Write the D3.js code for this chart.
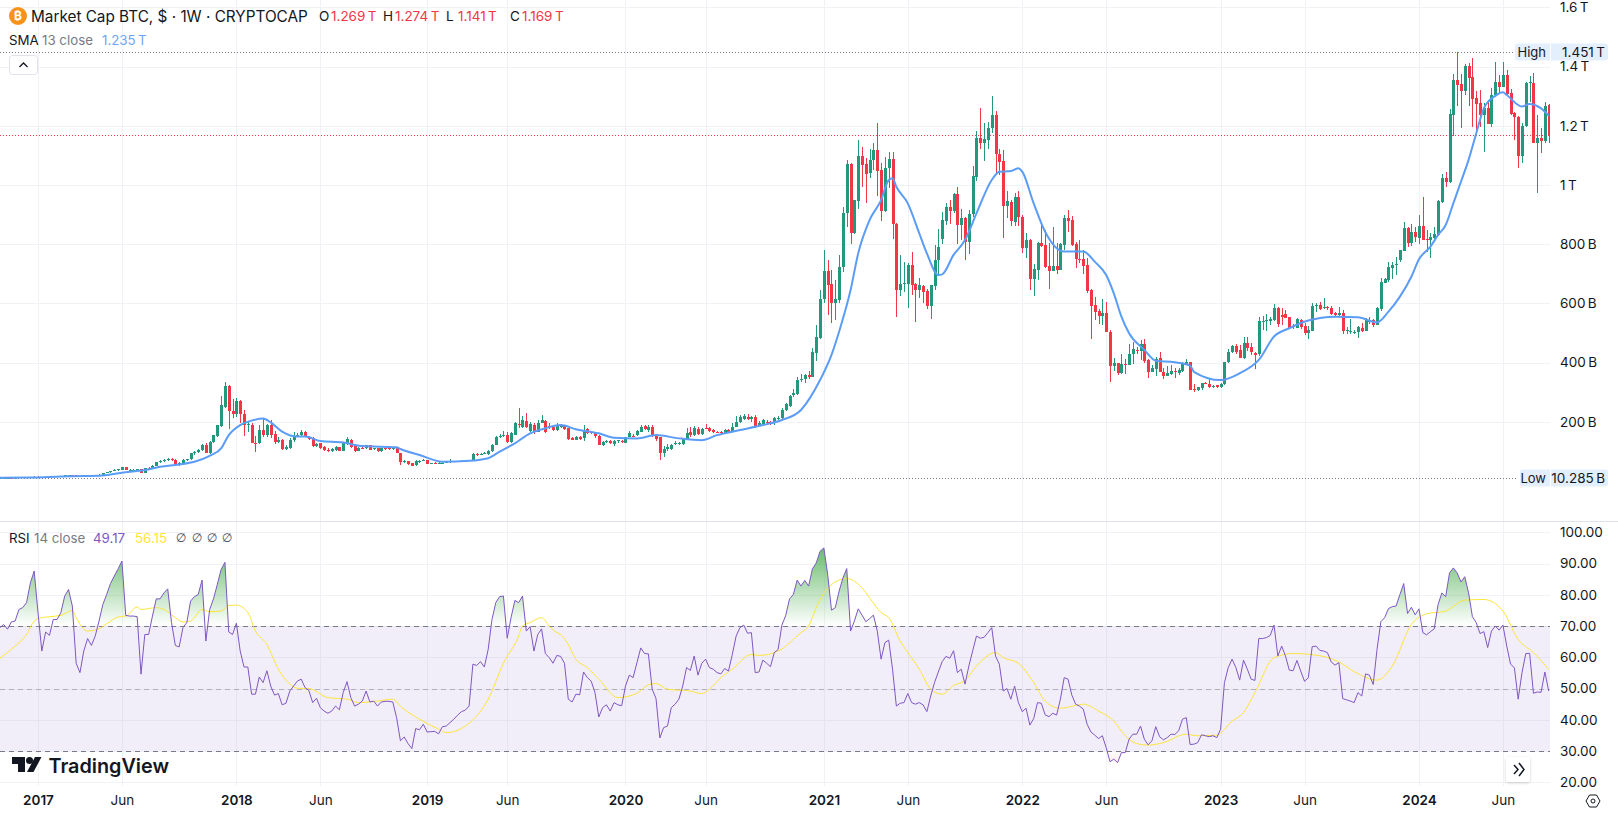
<!DOCTYPE html>
<html lang="en">
<head>
<meta charset="UTF-8">
<title>Market Cap BTC</title>
<script src="https://d3js.org/d3.v7.min.js"></script>
<style>
    body { margin: 0; background: #fff; font-family: Inter, "Noto Sans", sans-serif; }
    svg { display: block; }
    text { font-family: Inter, "Noto Sans", sans-serif; fill: #131722; }
    .axis text { font-size: 13.5px; }
    .axis path, .axis line { display: none; }
    .grid { stroke: #f1f2f6; stroke-width: 1; shape-rendering: crispEdges; }
</style>
</head>
<body>
<svg width="1618" height="814"></svg>
<script>
// weekly candles, values in billions, one entry per bar
const opens = [
10.4,10.7,11.1,11.3,11.2,11.7,11.9,12.2,12.6,14,
15.2,14.3,13.3,14.8,14.7,16.6,16.1,17,18.9,20.5,
19.9,15.7,15.5,17.6,19.5,19.2,20.3,21,27,29,
34,37,38,46,37,38,37,39,28,44,
43,52,64,68,70,75,72,55,60,72,
73,93,98,104,121,94,132,153,186,250,
320,235,225,270,228,190,190,130,130,172,
155,190,160,132,140,108,112,138,153,155,
165,146,145,118,128,115,106,101,106,115,
103,125,140,118,103,112,111,120,108,110,
100,110,110,108,112,93,65,66,60,53,
68,70,71,59,62,60,61,62,64,67,
66,67,68,69,70,92,91,92,90,100,
122,150,153,157,133,157,192,183,204,170,
190,167,195,204,186,183,172,186,186,178,
144,140,150,144,175,166,161,152,121,133,
136,125,136,135,130,150,153,155,167,186,
172,184,157,147,96,107,108,127,127,125,
141,164,155,176,158,180,180,172,167,167,
163,172,167,183,200,211,217,209,217,189,
192,200,200,195,212,212,240,252,290,293,
341,344,358,352,434,482,615,709,666,600,
612,722,904,1071,839,947,1098,1071,1040,1084,
1118,1051,912,1056,1087,867,645,668,666,730,
665,645,660,642,592,660,745,818,880,927,
913,970,865,887,809,901,1026,1158,1143,1152,
1191,1237,1105,1081,930,944,876,958,893,788,
814,683,713,803,797,726,711,726,713,797,
887,882,800,751,749,730,645,593,574,557,
566,503,390,397,366,396,393,428,443,440,
463,409,369,378,414,369,356,363,372,364,
371,395,401,310,309,313,331,328,321,323,
317,328,401,436,456,443,414,465,454,434,
428,541,541,541,544,585,561,563,553,523,
518,544,523,501,508,594,595,585,587,584,
566,561,566,510,507,502,502,516,508,541,
544,528,581,668,679,718,730,745,777,854,
805,840,822,862,817,814,822,831,944,1025,
1011,1236,1355,1341,1318,1402,1365,1293,1276,1237,
1259,1206,1304,1347,1330,1372,1310,1242,1231,1099,
1199,1343,1343,1143,1159,1149,1269];
const highs = [
10.8,11.3,11.6,11.7,11.8,12,12.3,12.8,14.2,15.8,
18.2,14.8,15,15.2,16.8,17,17.2,19,21,21.2,
20.5,17,17.8,19.6,20,20.4,22,27,29.5,34,
41,40,48,47,41,40,40,40,45,46,
53,65,72,74,79,78,74,63,73,76,
95,100,108,124,130,134,157,190,288,333,
325,276,280,275,240,200,195,153,190,211,
192,205,170,150,142,122,145,165,162,172,
168,152,148,130,130,118,112,110,118,116,
132,147,142,122,115,116,123,123,112,112,
113,113,112,113,113,96,70,68,62,70,
72,73,72,62,64,63,64,66,74,69,
69,70,71,72,93,95,95,98,105,125,
152,160,168,165,165,198,245,218,231,200,
195,205,222,207,195,190,195,193,190,180,
148,152,153,190,178,170,166,155,136,138,
140,137,140,138,150,170,158,172,188,190,
188,188,160,150,118,125,125,135,133,145,
178,184,185,182,178,192,182,175,170,170,
175,176,195,220,223,225,228,220,222,202,
208,205,203,215,218,245,262,290,310,350,
362,362,372,448,527,645,780,747,713,680,
764,927,1085,1075,949,1152,1130,1090,1120,1141,
1211,1073,1096,1113,1113,870,764,739,736,773,
668,685,662,648,662,797,850,910,938,950,
974,992,919,893,915,1064,1182,1259,1208,1214,
1301,1251,1120,1118,980,950,972,980,899,839,
818,732,808,871,848,803,859,803,803,900,
915,896,808,814,780,752,648,620,581,615,
605,509,414,400,428,411,464,468,454,476,
480,411,392,420,435,381,389,392,381,381,
401,412,402,328,319,332,336,349,326,326,
331,401,446,460,462,460,488,488,465,437,
553,557,564,555,598,589,583,578,555,530,
550,547,533,523,600,602,606,617,592,590,
570,587,578,521,546,510,524,533,549,555,
546,588,685,685,739,740,758,782,876,857,
868,857,899,958,848,837,857,949,1037,1045,
1256,1375,1451,1375,1409,1411,1428,1319,1321,1276,
1287,1327,1415,1372,1415,1389,1323,1248,1233,1208,
1349,1368,1377,1236,1191,1279,1274];
const lows = [
10.3,10.5,10.9,11,11.1,11.5,11.7,12,12.4,13.8,
13,12.5,13,14.2,14.5,15.2,15.8,16.8,18.5,18.5,
15.2,14,15.2,17.4,18.8,19,20,20.5,26.5,28.5,
33,34,37,36,35,36,35,27,27,41,
42,50,60,65,68,68,50,50,58,68,
72,88,96,100,93,92,130,150,184,245,
175,212,215,195,152,166,128,99,125,150,
150,145,125,128,105,106,108,132,148,150,
147,138,116,114,108,103,98,99,103,101,
102,123,113,98,100,107,109,104,105,98,
98,105,106,105,93,55,60,54,50,51,
62,66,58,56,58,58,59,60,62,64,
64,65,66,67,69,85,88,90,89,98,
120,145,150,130,130,155,180,180,178,165,
160,165,195,163,175,168,170,180,172,140,
137,138,140,135,160,158,145,120,118,128,
125,118,130,128,128,148,148,152,165,172,
165,150,135,71,82,100,104,120,122,122,
138,150,152,155,155,175,165,163,163,160,
160,163,165,182,197,205,205,200,180,185,
188,190,188,190,207,208,235,250,285,290,
335,330,345,350,407,480,600,561,535,544,
600,707,857,801,835,919,994,940,1022,1050,
963,878,910,991,818,555,626,640,583,628,
538,617,600,581,547,645,700,800,865,868,
905,801,815,745,767,893,1015,1122,1082,1120,
1175,1040,1034,822,890,862,862,862,769,752,
645,626,679,792,721,649,709,700,713,780,
842,794,718,735,699,636,480,544,530,527,
503,335,373,358,363,361,392,395,429,409,
397,349,367,356,367,345,355,358,349,358,
369,392,307,300,305,307,327,315,313,315,
313,325,397,431,429,414,412,440,424,380,
423,510,508,527,541,521,527,552,512,512,
516,513,494,480,507,572,578,580,578,561,
555,557,497,495,495,495,484,505,507,532,
519,527,575,668,673,681,696,740,777,790,
794,809,801,814,775,755,817,828,940,992,
1008,1167,1267,1193,1304,1267,1197,1169,1197,1113,
1206,1197,1298,1310,1330,1304,1237,1152,1056,1073,
1197,1281,1143,972,1109,1141,1141];
const closes = [
10.7,11.1,11.3,11.2,11.7,11.9,12.2,12.6,14,15.2,
14.3,13.3,14.8,14.7,16.6,16.1,17,18.9,20.5,19.9,
15.7,15.5,17.6,19.5,19.2,20.3,21,27,29,34,
37,39,46,37,38,38.5,39,28,44,43,
52,65,68,70,75,71,55,60,72,74,
93,98,104,121,94,132,155,188,258,320,
235,225,270,228,190,192,130,128,172,155,
188,155,132,138,108,114,140,153,156,165,
150,142,118,126,112,105,101,108,115,103,
130,143,115,102,112,110,120,106,110,100,
110,108,108,110,95,65,66,56,52,69,
68,71,59,60,61,61,62,65,67,66,
67,68,69,70,92,91,92,96,103,122,
150,153,157,133,161,195,190,206,182,192,
165,195,206,167,183,172,189,186,175,142,
140,150,142,172,163,161,152,121,133,136,
127,136,137,133,148,161,152,169,184,176,
184,153,141,96,107,116,122,127,128,141,
161,154,178,158,174,178,169,167,166,163,
172,167,183,200,217,220,209,217,187,197,
205,195,192,212,212,240,259,287,296,341,
344,358,352,437,486,615,709,662,600,615,
723,904,1071,839,949,1098,1068,1037,1084,1118,
1047,912,1056,1087,867,645,665,668,730,662,
645,662,640,592,662,747,790,882,927,913,
970,865,887,809,901,1030,1158,1143,1155,1191,
1237,1105,1079,930,946,878,958,893,788,814,
683,715,805,794,724,710,726,713,801,890,
879,797,749,749,727,642,591,572,557,569,
503,390,399,364,395,394,428,446,442,462,
407,369,382,413,369,356,365,372,370,375,
395,403,307,309,317,330,327,318,322,317,
329,401,436,456,436,416,466,450,437,426,
541,541,544,548,585,529,555,552,516,523,
546,520,501,510,591,594,581,587,586,564,
561,566,508,510,507,502,519,508,546,541,
528,583,671,681,722,730,733,780,854,805,
842,826,862,814,814,825,833,946,1023,1009,
1239,1355,1339,1318,1402,1363,1291,1274,1237,1259,
1206,1304,1347,1330,1372,1307,1240,1231,1099,1199,
1343,1348,1143,1159,1149,1267,1169];

// SMA 13: bar index and value in billions
const smaBars = [0,8,16,22,26,32,38,42,47,51,55,58,60,63,66,69,71,74,78,80,84,90,95,104,105,110,116,123,128,131,135,139,143,147,151,157,161,167,172,178,184,188,194,200,205,210,215,218,220,223,225,228,231,233,234,235,238,241,243,246,247,250,253,256,260,262,265,267,268,271,274,279,284,287,290,292,294,296,300,303,308,312,313,320,325,330,334,338,343,350,356,361,364,367,370,372,375,377,379,381,383,385,387,389,392,394,395,399,401,404,406];
const smaValues = [10.8,11.5,15,17,18,28,37,48,56,65,85,110,155,189,204,211,198,167,150,150,135,130,118,114,108,88,65,68,77,99,127,161,178,189,175,161,146,144,155,144,138,155,172,189,206,240,341,426,505,645,769,882,949,1017,1023,994,938,837,769,696,698,764,814,904,1017,1045,1047,1057,1045,938,842,775,775,741,696,634,555,499,443,406,401,390,369,341,364,409,488,516,542,555,553,536,572,623,690,749,792,831,865,938,1011,1085,1174,1259,1301,1313,1304,1265,1274,1259,1235];

// RSI 14, one entry per bar
const rsiValues = [
69.5,70.5,69,71.3,71.6,75.3,75.9,77.5,83.8,87.6,
74.3,62,68.1,67,72.1,72.1,74.3,79.6,81.7,76.4,
58.1,55.1,62,66,63.8,66.8,71.6,76.9,80.1,83.6,
86,88.3,90.8,73.4,73.2,73.2,73,54.6,67.3,67.3,
73.2,78.7,78.7,80.6,81.9,71.1,63.8,63.3,69.5,71.1,
78,79.4,80.1,84.7,65.2,75.3,78.7,83.3,88.1,90.4,
68.1,67.3,70.9,62,56.9,56.9,48.2,48.2,53.7,51.9,
55.7,50.8,47.9,48.4,44.8,45.3,49.2,50.8,52.4,53,
50.3,49.4,45.5,46.9,43.9,42.8,42.1,42.8,44.4,43.2,
48.7,52.2,47.1,44.4,45,46,49.2,45.7,46,44.4,
45.7,45.9,45.9,45.7,40.7,33.3,34.5,32.4,30.8,37.2,
36.8,38.6,36.1,36.2,36.3,35.5,37.8,38,39.1,40.2,
41.5,42.6,43.1,44.4,57.8,57.4,58.6,56.9,62.5,72.1,
77.5,79.4,79.6,66.1,72.7,78.2,77.5,79.6,68.4,69.8,
62,67.3,69.1,61.2,59.9,58.1,60.6,60.3,58.1,46.6,
45.7,48.2,48,55.3,53.5,52.4,48.7,40.9,43.9,44.8,
42.8,45.5,44.8,44.5,50.8,54.3,53.5,58.3,63,61.2,
61.1,49.8,46.8,34.2,37.5,38,43.9,45,46.6,50.8,
56.7,55.8,60.4,54.3,58.1,59.4,56.7,56.2,55.1,54.7,
56.4,55.6,60.9,66.8,69.5,70.3,67.7,67.9,55.1,55.3,
59.1,58.1,57,61.5,62.5,70.3,73.4,78.7,80.1,84.7,
82.8,84.6,82.8,88.3,90.2,93.9,95,86.5,75.1,75.9,
81.2,85.4,88.4,68.4,71.6,75.5,73.5,71.4,72.4,73.5,
68.4,59.4,64.7,65.5,56.2,44.4,45.3,45.5,48.4,45.5,
45,45.5,44.8,42.6,47.6,51.9,55.3,58.6,60.3,59.7,
62.1,55.1,56.2,51.4,57.2,62,66.8,66.1,66.4,67.9,
69.5,60.4,57.8,49.2,50,46.6,50.8,45.5,42.6,43.7,
38.3,40.4,45.5,45.3,41.6,41,42.1,41.5,46.6,53.5,
53,47.9,45,44.4,43.4,38.6,36.1,35.1,34,34.9,
31.1,26.6,27.4,26.3,29.5,29.5,33.8,35.4,35.4,38,
33.8,32,33.3,37.8,34.6,33.6,34.3,35.4,35.3,36.5,
40.2,40.7,32.1,32.2,32.7,35.2,34.9,34.6,34.9,34.3,
37,51.9,56.7,59.4,56.7,52.7,59.1,56.2,53,52.6,
66,66,66.3,67,70.3,60.4,63.6,60.4,55.9,55.7,
59,55.6,52.3,53.5,63.4,63.6,62.2,62,61.5,58.5,
57.5,58.3,46.8,46.4,46,45.5,48.7,47.6,54.7,54.3,
51.3,62.5,71.4,72.7,75.6,76.2,76.4,80.1,83.6,74,
76,73.6,75.5,67.9,67.2,68.2,69.1,76.9,80.6,79.4,
87,88.6,87,84.1,85.8,80.6,73,71.1,67.6,68.2,
63.1,68.4,70,68.7,70.3,63.6,57.8,56.7,46.6,55.1,
61.2,61.3,48.5,48.9,48.8,55.3,49.2];

// RSI moving average
const rsiMaBars = [0,4,7,9,10,13,16,19,20,23,26,28,31,33,36,37,41,43,46,48,50,53,55,58,60,62,65,67,70,73,76,78,81,86,91,94,99,103,105,110,115,117,123,128,132,136,137,139,142,144,146,147,149,151,154,157,162,167,170,172,175,181,184,186,189,192,197,199,204,210,212,214,217,222,226,228,231,233,236,238,241,244,247,250,253,256,261,263,267,271,274,278,282,284,288,292,295,298,301,305,311,314,319,323,326,329,334,339,345,351,355,361,365,370,374,379,384,389,394,398,402,406];
const rsiMaValues = [59.7,63.6,67.3,71.6,72.4,73,73.4,75,72.7,68.4,69.1,70.7,72.9,73.2,76.1,75.3,75.9,75.3,72.7,71.3,71.6,75.3,74.6,74.8,76.6,76.7,74.3,68.4,64.1,56.2,51.4,50.1,50,47.1,46.6,45.5,46,46.6,44.3,40.2,37,35.9,38.9,46.6,58.1,66.8,70,71.1,72.7,70,67.9,67.3,64.1,59.4,56.7,53,47.1,48.5,51.2,51.6,49.8,49.2,48.4,49.8,53.5,56.2,60.9,60.6,62,67.9,70,75.9,82.2,85.2,82.2,79,74.3,72.7,65.2,61.5,56.2,49.8,48.2,51,52.6,57.2,61.5,59.9,58.1,51.9,46,43.7,44.6,45,42.8,39.6,34.9,32.4,31.9,32.7,35.4,34.9,35.1,39.6,42.3,48.7,59.9,61.2,60.7,58.5,55.4,52.7,57.2,70.5,73.9,74.8,78.3,78.5,74.8,65.7,61.5,56.15];

const priceTicks = [200, 400, 600, 800, 1000, 1200, 1400, 1600];
const priceTickLabels = ["200\u2009B", "400\u2009B", "600\u2009B", "800\u2009B", "1\u2009T", "1.2\u2009T", "1.4\u2009T", "1.6\u2009T"];
const rsiTicks = [20, 30, 40, 50, 60, 70, 80, 90, 100];
const timeTickBars = [10, 32, 62, 84, 112, 133, 164, 185, 216, 238, 268, 290, 320, 342, 372, 394];
const timeTickLabels = ["2017", "Jun", "2018", "Jun", "2019", "Jun", "2020", "Jun", "2021", "Jun", "2022", "Jun", "2023", "Jun", "2024", "Jun"];

const highValue = 1451, lowValue = 10.285, lastClose = 1169;

const upColor = "#22987c", downColor = "#f23645";
const plotRight = 1550;

const svg = d3.select("svg");

const x = d3.scaleLinear().domain([10, 406]).range([38, 1548.7]);
const y = d3.scaleLinear().domain([0, 1000]).range([481, 185]);
const yRsi = d3.scaleLinear().domain([20, 100]).range([782.3, 532.3]);

// clip so nothing runs into the axes
const defs = svg.append("defs");
defs.append("clipPath").attr("id", "plot").append("rect").attr("width", plotRight).attr("height", 814);
defs.append("clipPath").attr("id", "above70").append("rect").attr("width", plotRight).attr("height", yRsi(70));
defs.append("clipPath").attr("id", "below30").append("rect").attr("y", yRsi(30)).attr("width", plotRight).attr("height", 60);
const gradUp = defs.append("linearGradient").attr("id", "gradUp").attr("gradientUnits", "userSpaceOnUse")
    .attr("x1", 0).attr("x2", 0).attr("y1", yRsi(100)).attr("y2", yRsi(70));
gradUp.append("stop").attr("offset", 0).attr("stop-color", "#4caf50").attr("stop-opacity", 1);
gradUp.append("stop").attr("offset", 1).attr("stop-color", "#4caf50").attr("stop-opacity", 0);
const gradDown = defs.append("linearGradient").attr("id", "gradDown").attr("gradientUnits", "userSpaceOnUse")
    .attr("x1", 0).attr("x2", 0).attr("y1", yRsi(30)).attr("y2", yRsi(0));
gradDown.append("stop").attr("offset", 0).attr("stop-color", "#ff5252").attr("stop-opacity", 0);
gradDown.append("stop").attr("offset", 1).attr("stop-color", "#ff5252").attr("stop-opacity", 1);

// grid
svg.append("g").selectAll("line").data(timeTickBars).join("line")
    .attr("class", "grid")
    .attr("x1", d => Math.round(x(d)) + 0.5).attr("x2", d => Math.round(x(d)) + 0.5)
    .attr("y1", 0).attr("y2", 786);
svg.append("g").selectAll("line").data(priceTicks).join("line")
    .attr("class", "grid")
    .attr("x1", 0).attr("x2", plotRight)
    .attr("y1", d => Math.round(y(d)) + 0.5).attr("y2", d => Math.round(y(d)) + 0.5);
svg.append("g").selectAll("line").data(rsiTicks).join("line")
    .attr("class", "grid")
    .attr("x1", 0).attr("x2", plotRight)
    .attr("y1", d => Math.round(yRsi(d)) + 0.5).attr("y2", d => Math.round(yRsi(d)) + 0.5);

// pane divider
svg.append("line").attr("x1", 0).attr("x2", 1618).attr("y1", 521.5).attr("y2", 521.5)
    .attr("stroke", "#e0e3eb").attr("shape-rendering", "crispEdges");

// high, low and last price lines
[[highValue, "#787b86", 1513], [lowValue, "#787b86", 1518], [lastClose, downColor, plotRight]].forEach(([v, c, end]) => {
    svg.append("line").attr("x1", 0).attr("x2", end)
        .attr("y1", Math.round(y(v)) + 0.5).attr("y2", Math.round(y(v)) + 0.5)
        .attr("stroke", c).attr("stroke-dasharray", "1 2");
});

// candles
const bars = closes.map((c, i) => ({i, o: opens[i], h: highs[i], l: lows[i], c}));
const candles = svg.append("g").attr("clip-path", "url(#plot)").attr("shape-rendering", "crispEdges");
candles.selectAll("line").data(bars).join("line")
    .attr("x1", d => Math.round(x(d.i)) + 0.5).attr("x2", d => Math.round(x(d.i)) + 0.5)
    .attr("y1", d => y(d.h)).attr("y2", d => y(d.l))
    .attr("stroke", d => d.c >= d.o ? upColor : downColor);
candles.selectAll("rect").data(bars).join("rect")
    .attr("x", d => Math.round(x(d.i)) - 1).attr("width", 3)
    .attr("y", d => y(Math.max(d.o, d.c)))
    .attr("height", d => Math.max(1, Math.abs(y(d.o) - y(d.c))))
    .attr("fill", d => d.c >= d.o ? upColor : downColor);

// SMA
svg.append("path").attr("clip-path", "url(#plot)")
    .attr("fill", "none").attr("stroke", "#5b9cf6").attr("stroke-width", 2).attr("stroke-linejoin", "round")
    .attr("d", d3.line().x((d, i) => x(smaBars[i])).y(d => y(d)).curve(d3.curveMonotoneX)(smaValues));

// RSI band
svg.append("rect").attr("x", 0).attr("width", plotRight)
    .attr("y", yRsi(70)).attr("height", yRsi(30) - yRsi(70))
    .attr("fill", "#7e57c2").attr("fill-opacity", 0.1);

// overbought / oversold fills
svg.append("path").attr("clip-path", "url(#above70)").attr("fill", "url(#gradUp)")
    .attr("d", d3.area().x((d, i) => x(i)).y0(yRsi(70)).y1(d => yRsi(d))(rsiValues));
svg.append("path").attr("clip-path", "url(#below30)").attr("fill", "url(#gradDown)")
    .attr("d", d3.area().x((d, i) => x(i)).y0(yRsi(30)).y1(d => yRsi(d))(rsiValues));

// band levels
[[70, 1], [50, 0.5], [30, 1]].forEach(([v, op]) => {
    svg.append("line").attr("x1", 0).attr("x2", plotRight)
        .attr("y1", Math.round(yRsi(v)) + 0.5).attr("y2", Math.round(yRsi(v)) + 0.5)
        .attr("stroke", "#787b86").attr("stroke-opacity", op).attr("stroke-dasharray", "5 4");
});

// RSI MA and RSI
svg.append("path").attr("clip-path", "url(#plot)")
    .attr("fill", "none").attr("stroke", "#fde53a").attr("stroke-width", 1)
    .attr("d", d3.line().x((d, i) => x(rsiMaBars[i])).y(d => yRsi(d)).curve(d3.curveMonotoneX)(rsiMaValues));
svg.append("path").attr("clip-path", "url(#plot)")
    .attr("fill", "none").attr("stroke", "#7e57c2").attr("stroke-width", 1)
    .attr("d", d3.line().x((d, i) => x(i)).y(d => yRsi(d))(rsiValues));

// axes
svg.append("g").attr("class", "axis").attr("transform", `translate(${plotRight},0)`)
    .call(d3.axisRight(y).tickValues(priceTicks).tickSize(0).tickPadding(10)
        .tickFormat((d, i) => priceTickLabels[i]));
svg.append("g").attr("class", "axis").attr("transform", `translate(${plotRight},0)`)
    .call(d3.axisRight(yRsi).tickValues(rsiTicks).tickSize(0).tickPadding(10)
        .tickFormat(d3.format(".2f")));
const timeAxis = svg.append("g").attr("class", "axis").attr("transform", "translate(0,795)")
    .call(d3.axisBottom(x).tickValues(timeTickBars).tickSize(0).tickPadding(0)
        .tickFormat((d, i) => timeTickLabels[i]));
timeAxis.selectAll("text").attr("font-weight", (d, i) => /^\d/.test(timeTickLabels[i]) ? 600 : 400);

// high / low tags
[[highValue, "High", "1.451\u2009T", 1515, 1608], [lowValue, "Low", "10.285\u2009B", 1520, 1608]].forEach(([v, name, val, left, right]) => {
    const cy = Math.round(y(v));
    svg.append("rect").attr("x", left).attr("y", cy - 8.5).attr("width", right - left).attr("height", 17)
        .attr("rx", 3).attr("fill", "#e3effd");
    svg.append("line").attr("x1", plotRight + 0.5).attr("x2", plotRight + 0.5).attr("y1", cy - 8.5).attr("y2", cy + 8.5)
        .attr("stroke", "#fff");
    svg.append("text").attr("x", plotRight - 4).attr("y", cy).attr("dy", "0.35em").attr("text-anchor", "end")
        .attr("font-size", 13).text(name);
    svg.append("text").attr("x", right - 3).attr("y", cy).attr("dy", "0.35em").attr("text-anchor", "end")
        .attr("font-size", 13.5).text(val);
});

// legend, top left
svg.append("circle").attr("cx", 18).attr("cy", 16).attr("r", 9).attr("fill", "#f7931a");
svg.append("text").attr("x", 18).attr("y", 16).attr("dy", "0.36em").attr("text-anchor", "middle")
    .attr("font-size", 12).attr("font-weight", 700).style("fill", "#fff").text("₿");
svg.append("text").attr("x", 31).attr("y", 16).attr("dy", "0.36em").attr("font-size", 15.3)
    .text("Market Cap BTC, $ · 1W · CRYPTOCAP");

const ohlcLabels = ["O", "H", "L", "C"];
const ohlcValues = ["1.269\u2009T", "1.274\u2009T", "1.141\u2009T", "1.169\u2009T"];
const ohlcX = [319, 383, 446, 510];
ohlcLabels.forEach((l, i) => {
    svg.append("text").attr("x", ohlcX[i]).attr("y", 16).attr("dy", "0.36em").attr("font-size", 13.5).text(l);
    svg.append("text").attr("x", ohlcX[i] + 12).attr("y", 16).attr("dy", "0.36em").attr("font-size", 13.5)
        .style("fill", downColor).text(ohlcValues[i]);
});

function legendRow(yPos, items) {
    items.forEach(([tx, txt, color]) => {
        svg.append("text").attr("x", tx).attr("y", yPos).attr("dy", "0.36em").attr("font-size", 13.3)
            .style("fill", color).text(txt);
    });
}
legendRow(40, [[9, "SMA", "#131722"], [42, "13 close", "#787b86"], [102, "1.235\u2009T", "#6ea6f5"]]);
legendRow(538, [[9, "RSI", "#131722"], [34, "14 close", "#787b86"], [93, "49.17", "#7e57c2"], [135, "56.15", "#fde53a"]]);
[181, 197, 212, 227].forEach(cx => {
    svg.append("text").attr("x", cx).attr("y", 538).attr("dy", "0.36em").attr("text-anchor", "middle")
        .attr("font-size", 12).style("font-family", "'DejaVu Sans'").style("fill", "#4a4e59").text("∅");
});

// collapse button
svg.append("rect").attr("x", 9.5).attr("y", 55.5).attr("width", 28).attr("height", 19).attr("rx", 3)
    .attr("fill", "#fff").attr("stroke", "#e0e3eb");
svg.append("path").attr("d", "M19.5,67 L23.5,63 L27.5,67").attr("fill", "none").attr("stroke", "#131722").attr("stroke-width", 1.3);

// scroll button
const shadow = defs.append("filter").attr("id", "shadow").attr("x", "-30%").attr("y", "-30%").attr("width", "160%").attr("height", "160%");
shadow.append("feDropShadow").attr("dx", 0).attr("dy", 1).attr("stdDeviation", 1.5).attr("flood-opacity", 0.18);
svg.append("rect").attr("x", 1506).attr("y", 757).attr("width", 24).attr("height", 25).attr("rx", 3)
    .attr("fill", "#fff").attr("filter", "url(#shadow)");
svg.append("path").attr("d", "M1514,765 L1518,769.5 L1514,774 M1519,763 L1524,769.5 L1519,776")
    .attr("fill", "none").attr("stroke", "#131722").attr("stroke-width", 1.5);

// settings icon
svg.append("path").attr("d", "M1586,801 L1589.5,795 L1596.5,795 L1600,801 L1596.5,807 L1589.5,807 Z")
    .attr("fill", "none").attr("stroke", "#131722");
svg.append("circle").attr("cx", 1593).attr("cy", 801).attr("r", 2).attr("fill", "none").attr("stroke", "#131722");

// TradingView mark and wordmark
svg.append("path").attr("d", "M12,757 H25 V772 H18 V764 H12 Z").attr("fill", "#131722");
svg.append("circle").attr("cx", 29.5).attr("cy", 760.5).attr("r", 3.5).attr("fill", "#131722");
svg.append("path").attr("d", "M27,772 L35,757 H41.5 L33.5,772 Z").attr("fill", "#131722");
svg.append("text").attr("x", 48.5).attr("y", 765.5).attr("dy", "0.36em").attr("font-size", 19.8)
    .attr("font-weight", 600).text("TradingView");
</script>
</body>
</html>
